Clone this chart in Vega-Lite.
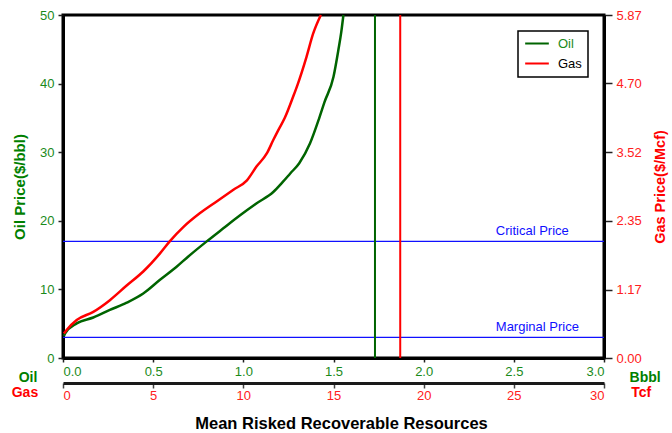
{
  "$schema": "https://vega.github.io/schema/vega-lite/v6.json",
  "width": 541,
  "height": 343,
  "autosize": {"type": "none"},
  "padding": {"left": 63, "top": 15, "right": 68, "bottom": 75},
  "background": "white",
  "config": {
    "font": "Liberation Sans",
    "view": {"stroke": "black", "strokeWidth": 3},
    "axis": {
      "grid": false,
      "domainColor": "black",
      "domainWidth": 3,
      "tickColor": "#222222",
      "tickWidth": 1.5,
      "labelFont": "Liberation Sans",
      "labelFontSize": 13,
      "titleFont": "Liberation Sans",
      "titleFontWeight": "bold",
      "zindex": 1
    }
  },
  "datasets": {
    "oil": [
      {"series": "Oil", "r": 0.005, "p": 3.2},
      {"series": "Oil", "r": 0.012, "p": 3.6},
      {"series": "Oil", "r": 0.076, "p": 5.05},
      {"series": "Oil", "r": 0.168, "p": 5.9},
      {"series": "Oil", "r": 0.26, "p": 7.0},
      {"series": "Oil", "r": 0.353, "p": 8.06},
      {"series": "Oil", "r": 0.445, "p": 9.4},
      {"series": "Oil", "r": 0.538, "p": 11.4},
      {"series": "Oil", "r": 0.63, "p": 13.3},
      {"series": "Oil", "r": 0.695, "p": 14.8},
      {"series": "Oil", "r": 0.797, "p": 17.0},
      {"series": "Oil", "r": 0.889, "p": 18.9},
      {"series": "Oil", "r": 0.982, "p": 20.8},
      {"series": "Oil", "r": 1.074, "p": 22.55},
      {"series": "Oil", "r": 1.166, "p": 24.2},
      {"series": "Oil", "r": 1.22, "p": 25.7},
      {"series": "Oil", "r": 1.26, "p": 26.9},
      {"series": "Oil", "r": 1.31, "p": 28.4},
      {"series": "Oil", "r": 1.37, "p": 31.3},
      {"series": "Oil", "r": 1.42, "p": 34.9},
      {"series": "Oil", "r": 1.45, "p": 37.3},
      {"series": "Oil", "r": 1.50, "p": 41.0},
      {"series": "Oil", "r": 1.527, "p": 44.9},
      {"series": "Oil", "r": 1.543, "p": 47.5},
      {"series": "Oil", "r": 1.555, "p": 50}
    ],
    "gas": [
      {"series": "Gas", "t": 0.05, "g": 0.42},
      {"series": "Gas", "t": 0.2, "g": 0.48},
      {"series": "Gas", "t": 0.76, "g": 0.65},
      {"series": "Gas", "t": 1.68, "g": 0.79},
      {"series": "Gas", "t": 2.6, "g": 0.99},
      {"series": "Gas", "t": 3.53, "g": 1.24},
      {"series": "Gas", "t": 4.45, "g": 1.48},
      {"series": "Gas", "t": 5.38, "g": 1.79},
      {"series": "Gas", "t": 5.93, "g": 2.0},
      {"series": "Gas", "t": 6.67, "g": 2.24},
      {"series": "Gas", "t": 7.6, "g": 2.48},
      {"series": "Gas", "t": 8.52, "g": 2.68},
      {"series": "Gas", "t": 9.45, "g": 2.88},
      {"series": "Gas", "t": 10.2, "g": 3.04},
      {"series": "Gas", "t": 10.74, "g": 3.28},
      {"series": "Gas", "t": 11.3, "g": 3.5},
      {"series": "Gas", "t": 11.66, "g": 3.73},
      {"series": "Gas", "t": 11.94, "g": 3.9},
      {"series": "Gas", "t": 12.3, "g": 4.11},
      {"series": "Gas", "t": 12.76, "g": 4.47},
      {"series": "Gas", "t": 13.0, "g": 4.67},
      {"series": "Gas", "t": 13.5, "g": 5.15},
      {"series": "Gas", "t": 13.87, "g": 5.55},
      {"series": "Gas", "t": 14.3, "g": 5.87}
    ],
    "refs": [
      {"label": "Critical Price", "p": 17, "r": 2.4},
      {"label": "Marginal Price", "p": 3, "r": 2.4}
    ],
    "greenLabels": [
      {"label": "Oil", "r": -0.194, "p": -2.9},
      {"label": "Bbbl", "r": 3.228, "p": -2.9}
    ],
    "redLabels": [
      {"label": "Gas", "r": -0.211, "p": -5.1},
      {"label": "Tcf", "r": 3.206, "p": -5.1}
    ],
    "oilCut": [{"r": 1.73}],
    "gasCut": [{"t": 18.7}]
  },
  "layer": [
    {
      "layer": [
        {
          "data": {"name": "refs"},
          "mark": {"type": "rule", "color": "#1010ff", "strokeWidth": 1.2},
          "encoding": {
            "y": {"field": "p", "type": "quantitative", "scale": {"domain": [0, 50]}}
          }
        },
        {
          "data": {"name": "refs"},
          "mark": {"type": "text", "color": "#1010ff", "align": "left", "baseline": "bottom", "dy": -3, "fontSize": 13},
          "encoding": {
            "x": {"field": "r", "type": "quantitative", "scale": {"domain": [0, 3]}},
            "y": {"field": "p", "type": "quantitative", "scale": {"domain": [0, 50]}},
            "text": {"field": "label"}
          }
        },
        {
          "data": {"name": "oilCut"},
          "mark": {"type": "rule", "color": "#006400", "strokeWidth": 2},
          "encoding": {
            "x": {"field": "r", "type": "quantitative", "scale": {"domain": [0, 3]}}
          }
        },
        {
          "data": {"name": "oil"},
          "mark": {"type": "line", "strokeWidth": 2.5, "interpolate": "monotone"},
          "encoding": {
            "x": {
              "field": "r", "type": "quantitative",
              "scale": {"domain": [0, 3]},
              "axis": {
                "orient": "bottom",
                "values": [0, 0.5, 1, 1.5, 2, 2.5, 3],
                "format": ".1f",
                "labelColor": "#1a8a1a",
                "tickSize": 4,
                "labelPadding": 3,
                "title": null
              }
            },
            "y": {
              "field": "p", "type": "quantitative",
              "scale": {"domain": [0, 50]},
              "axis": {
                "orient": "left",
                "values": [0, 10, 20, 30, 40, 50],
                "labelColor": "#1a8a1a",
                "tickSize": 5,
                "labelPadding": 4,
                "title": "Oil Price($/bbl)",
                "titleColor": "#008000",
                "titleFontSize": 15,
                "titlePadding": 12
              }
            },
            "color": {
              "field": "series", "type": "nominal",
              "scale": {"domain": ["Oil", "Gas"], "range": ["#006400", "#ff0000"]},
              "legend": {
                "title": null,
                "orient": "top-right",
                "offset": 16,
                "strokeColor": "black",
                "fillColor": "white",
                "padding": 6,
                "symbolType": "stroke",
                "symbolSize": 560,
                "symbolStrokeWidth": 2,
                "clipHeight": 13,
                "labelFontSize": 13,
                "labelOffset": 8,
                "rowPadding": 6,
                "labelColor": "black",
                "encode": {
                  "legend": {"update": {"strokeWidth": {"value": 1.5}}},
                  "labels": {"update": {"fill": {"signal": "datum.label === 'Oil' ? '#1a8a1a' : 'black'"}}}
                }
              }
            }
          }
        },
        {
          "data": {"name": "greenLabels"},
          "mark": {"type": "text", "color": "#008000", "fontWeight": "bold", "fontSize": 14, "align": "center", "baseline": "middle"},
          "encoding": {
            "x": {"field": "r", "type": "quantitative", "scale": {"domain": [0, 3]}},
            "y": {"field": "p", "type": "quantitative", "scale": {"domain": [0, 50]}},
            "text": {"field": "label"}
          }
        },
        {
          "data": {"name": "redLabels"},
          "mark": {"type": "text", "color": "#ff0000", "fontWeight": "bold", "fontSize": 14, "align": "center", "baseline": "middle"},
          "encoding": {
            "x": {"field": "r", "type": "quantitative", "scale": {"domain": [0, 3]}},
            "y": {"field": "p", "type": "quantitative", "scale": {"domain": [0, 50]}},
            "text": {"field": "label"}
          }
        }
      ]
    },
    {
      "layer": [
        {
          "data": {"name": "gasCut"},
          "mark": {"type": "rule", "color": "#ff0000", "strokeWidth": 2},
          "encoding": {
            "x": {"field": "t", "type": "quantitative", "scale": {"domain": [0, 30]}}
          }
        },
        {
          "data": {"name": "gas"},
          "mark": {"type": "line", "strokeWidth": 2.5, "interpolate": "monotone"},
          "encoding": {
            "x": {
              "field": "t", "type": "quantitative",
              "scale": {"domain": [0, 30]},
              "axis": {
                "orient": "bottom",
                "offset": 25,
                "values": [0, 5, 10, 15, 20, 25, 30],
                "labelColor": "#ff2020",
                "domainColor": "#1a1a1a",
                "domainWidth": 3,
                "tickColor": "#444444",
                "tickSize": 5,
                "labelPadding": 1,
                "title": "Mean Risked Recoverable Resources",
                "titleColor": "black",
                "titleFontSize": 16.5,
                "titlePadding": 13,
                "titleX": 278
              }
            },
            "y": {
              "field": "g", "type": "quantitative",
              "scale": {"domain": [0, 5.87]},
              "axis": {
                "orient": "right",
                "values": [0, 1.17, 2.35, 3.52, 4.70, 5.87],
                "format": ".2f",
                "labelColor": "#ff2020",
                "tickSize": 8,
                "labelPadding": 4,
                "title": "Gas Price($/Mcf)",
                "titleColor": "#ff0000",
                "titleFontSize": 14.5,
                "titleAngle": 270,
                "titlePadding": 26
              }
            },
            "color": {"field": "series", "type": "nominal"}
          }
        }
      ]
    }
  ],
  "resolve": {"scale": {"x": "independent", "y": "independent"}}
}
